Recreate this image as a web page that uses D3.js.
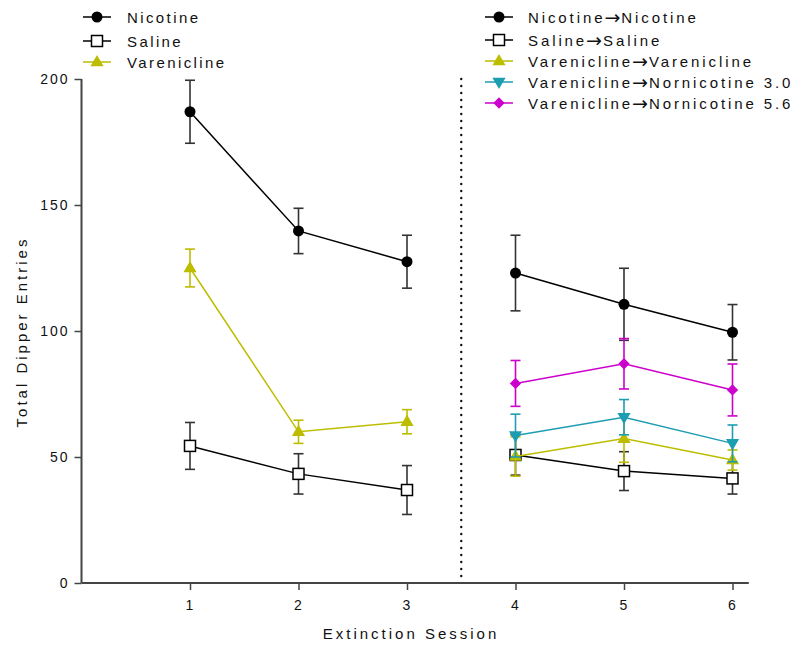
<!DOCTYPE html>
<html>
<head>
<meta charset="utf-8">
<script src="https://cdn.jsdelivr.net/npm/d3@7"></script>
<style>
  body { margin: 0; background: #fff; }
  text { font-family: "Liberation Sans", Arial, sans-serif; fill: #111; }
</style>
</head>
<body>
<div id="the_chart"></div>
<script>
// sessions
var sessionsA = [1, 2, 3];
var sessionsB = [4, 5, 6];

// acquisition groups (sessions 1-3)
var nicotineMean = [187, 139.7, 127.5];
var nicotineSem = [12.5, 9, 10.5];
var salineMean = [54.4, 43.3, 36.9];
var salineSem = [9.3, 8, 9.7];
var vareniclineMean = [125, 60, 64];
var vareniclineSem = [7.5, 4.6, 4.8];

// substitution groups (sessions 4-6)
var nicNicMean = [123, 110.6, 99.5];
var nicNicSem = [15, 14.3, 11];
var salSalMean = [50.8, 44.4, 41.5];
var salSalSem = [8, 7.7, 6.2];
var varVarMean = [50.2, 57.3, 48.8];
var varVarSem = [7.8, 9.4, 4];
var varNor30Mean = [58.5, 65.8, 55.4];
var varNor30Sem = [8.5, 7, 7.3];
var varNor56Mean = [79.2, 87, 76.6];
var varNor56Sem = [9.1, 10, 10.3];

var yTicks = [0, 50, 100, 150, 200];
var xTicks = [1, 2, 3, 4, 5, 6];

var black = "#000", yellow = "#bdbd00", teal = "#1d9db2", magenta = "#cc00cc";

var series = [
    {name: ["Nicotine"], x: sessionsA, m: nicotineMean, e: nicotineSem, color: black, errColor: "#333", sym: "circle"},
    {name: ["Saline"], x: sessionsA, m: salineMean, e: salineSem, color: black, errColor: "#333", sym: "square"},
    {name: ["Varenicline"], x: sessionsA, m: vareniclineMean, e: vareniclineSem, color: yellow, errColor: yellow, sym: "up"},
    {name: ["Nicotine", "Nicotine"], x: sessionsB, m: nicNicMean, e: nicNicSem, color: black, errColor: "#333", sym: "circle"},
    {name: ["Saline", "Saline"], x: sessionsB, m: salSalMean, e: salSalSem, color: black, errColor: "#333", sym: "square"},
    {name: ["Varenicline", "Varenicline"], x: sessionsB, m: varVarMean, e: varVarSem, color: yellow, errColor: yellow, sym: "up"},
    {name: ["Varenicline", "Nornicotine 3.0"], x: sessionsB, m: varNor30Mean, e: varNor30Sem, color: teal, errColor: teal, sym: "down"},
    {name: ["Varenicline", "Nornicotine 5.6"], x: sessionsB, m: varNor56Mean, e: varNor56Sem, color: magenta, errColor: magenta, sym: "diamond"}
];

var w = 800, h = 649;

var svg = d3.select("#the_chart").append("svg")
    .attr("width", w)
    .attr("height", h);

var xscale = d3.scaleLinear().domain([0, 6.15]).range([81.5, 81.5 + 6.15 * 108.5]);
var yscale = d3.scaleLinear().domain([0, 200]).range([583, 79]);

function drawSymbol(g, type, color, cx, cy) {
    if (type == "circle") {
        g.append("circle").attr("cx", cx).attr("cy", cy).attr("r", 5.5).attr("fill", color);
    } else if (type == "square") {
        g.append("rect").attr("x", cx - 5.5).attr("y", cy - 5.5).attr("width", 11).attr("height", 11)
            .attr("fill", "#fff").attr("stroke", color).attr("stroke-width", 1.5);
    } else if (type == "up") {
        g.append("path").attr("d", d3.symbol().type(d3.symbolTriangle).size(75)())
            .attr("transform", "translate(" + cx + "," + (cy + 0.5) + ")").attr("fill", color);
    } else if (type == "down") {
        g.append("path").attr("d", d3.symbol().type(d3.symbolTriangle).size(75)())
            .attr("transform", "translate(" + cx + "," + (cy - 0.5) + ") rotate(180)").attr("fill", color);
    } else if (type == "diamond") {
        g.append("rect").attr("x", -4).attr("y", -4).attr("width", 8).attr("height", 8)
            .attr("transform", "translate(" + cx + "," + cy + ") rotate(45)").attr("fill", color);
    }
}

// dotted separator
svg.append("line")
    .attr("x1", xscale(3.5)).attr("x2", xscale(3.5))
    .attr("y1", yscale(200)).attr("y2", yscale(0))
    .attr("stroke", "#111").attr("stroke-width", 2.4)
    .attr("stroke-linecap", "round")
    .attr("stroke-dasharray", "0,7");

// axes
var yaxis = d3.axisLeft(yscale).tickValues(yTicks).tickSize(7).tickPadding(5);
var xaxis = d3.axisBottom(xscale).tickValues(xTicks).tickSize(7).tickPadding(10).tickFormat(d3.format("d"));

var gy = svg.append("g").attr("transform", "translate(" + xscale(0) + ",0)").call(yaxis);
var gx = svg.append("g").attr("transform", "translate(0," + yscale(0) + ")").call(xaxis);

[gx, gy].forEach(function (g) {
    g.select(".domain").attr("stroke", "#444").attr("stroke-width", 2);
    g.selectAll(".tick line").attr("stroke", "#444").attr("stroke-width", 1.5);
    g.selectAll("text").style("font-size", "14px").style("letter-spacing", "2px")
        .style("font-family", "Liberation Sans, Arial, sans-serif").attr("fill", "#111");
});
gy.select(".domain").attr("d", "M0," + yscale(200) + "V" + yscale(0));
gx.select(".domain").attr("d", "M" + xscale(0) + ",0H" + xscale(6.15));

// axis titles
svg.append("text")
    .attr("x", 411).attr("y", 639)
    .attr("text-anchor", "middle")
    .style("font-size", "15px").style("letter-spacing", "3px")
    .text("Extinction Session");

svg.append("text")
    .attr("transform", "translate(27,332) rotate(-90)")
    .attr("text-anchor", "middle")
    .style("font-size", "15px").style("letter-spacing", "3px")
    .text("Total Dipper Entries");

// series
var line = d3.line().x(function (d) { return xscale(d[0]); }).y(function (d) { return yscale(d[1]); });

series.forEach(function (s) {
    var g = svg.append("g");
    var pts = s.x.map(function (x, i) { return [x, s.m[i], s.e[i]]; });
    pts.forEach(function (p) {
        var cx = xscale(p[0]);
        var y1 = yscale(p[1] + p[2]), y2 = yscale(p[1] - p[2]);
        g.append("line").attr("x1", cx).attr("x2", cx).attr("y1", y1).attr("y2", y2)
            .attr("stroke", s.errColor).attr("stroke-width", 1.6);
        [y1, y2].forEach(function (yy) {
            g.append("line").attr("x1", cx - 5).attr("x2", cx + 5).attr("y1", yy).attr("y2", yy)
                .attr("stroke", s.errColor).attr("stroke-width", 1.6);
        });
    });
    g.append("path").datum(pts).attr("d", line)
        .attr("fill", "none").attr("stroke", s.color).attr("stroke-width", 1.5);
    pts.forEach(function (p) {
        drawSymbol(g, s.sym, s.color, xscale(p[0]), yscale(p[1]));
    });
});

// legends
function legend(items, lx, tx, ys, spacing) {
    items.forEach(function (s, i) {
        var g = svg.append("g");
        g.append("line").attr("x1", lx - 14).attr("x2", lx + 14).attr("y1", ys[i]).attr("y2", ys[i])
            .attr("stroke", s.color).attr("stroke-width", 1.5);
        drawSymbol(g, s.sym, s.color, lx, ys[i]);
        var t = g.append("text").attr("x", tx).attr("y", ys[i] + 5.5)
            .style("font-size", "15px").style("letter-spacing", spacing + "px");
        t.append("tspan").text(s.name[0]);
        if (s.name.length > 1) {
            t.append("tspan").style("font-family", "DejaVu Sans").style("font-size", "19px")
                .style("letter-spacing", "1px").attr("dx", "-1").attr("dy", 1).text("\u2192");
            t.append("tspan").attr("dy", -1).text(s.name[1]);
        }
    });
}
legend(series.slice(0, 3), 97, 127, [17, 41, 62], 2.4);
legend(series.slice(3), 499, 528, [17, 40, 61, 82, 103], 2.9);
</script>
</body>
</html>
